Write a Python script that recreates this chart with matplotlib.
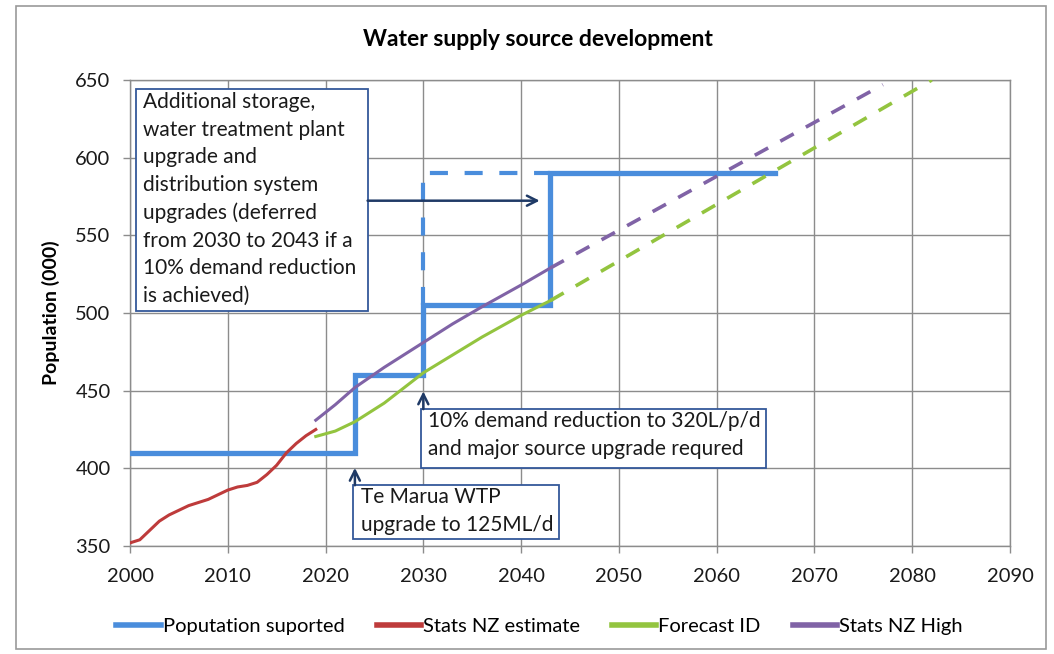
import matplotlib
matplotlib.use("Agg")
import matplotlib.pyplot as plt
from matplotlib.patches import Rectangle

plt.rcParams["font.family"] = ["Lato", "DejaVu Sans"]
plt.rcParams["lines.scale_dashes"] = False

# population supported (step line), solid and dashed parts
supported_years = [2000, 2023, 2023, 2030, 2030, 2043, 2043, 2066]
supported_vals = [410, 410, 460, 460, 505, 505, 590, 590]
deferred_years = [2030, 2030, 2043]
deferred_vals = [505, 590, 590]

# Stats NZ estimate
est_years = list(range(2000, 2020))
est_vals = [352, 354, 360, 366, 370, 373, 376, 378, 380, 383,
            386, 388, 389, 391, 396, 402, 410, 416, 421, 425]

# Forecast ID
fid_years = [2019, 2021, 2023, 2026, 2030, 2033, 2036, 2040, 2043]
fid_vals = [420.5, 424, 430, 442, 461.5, 473, 484.5, 498.5, 508]
fid_proj_years = [2043, 2082]
fid_proj_vals = [508, 650]

# Stats NZ High
high_years = [2019, 2021, 2023, 2026, 2030, 2033, 2036, 2040, 2043]
high_vals = [431, 441, 452, 465, 481, 493, 504, 518, 529]
high_proj_years = [2043, 2077]
high_proj_vals = [529, 647]

blue = "#4A8DDC"
red = "#BE3B3B"
green = "#93C43F"
purple = "#8063A6"
navy = "#1F3A66"
boxcol = "#34589A"
grid = "#8C8C8C"

fig = plt.figure(figsize=(10.54, 6.54), dpi=100)
ax = fig.add_axes([130 / 1054, 108 / 654, 880 / 1054, 466 / 654])

ax.plot(supported_years, supported_vals, color=blue, lw=3.8,
        solid_joinstyle="miter", label="Poputation suported", zorder=4)
ax.plot(deferred_years, deferred_vals, color=blue, lw=3.0,
        dashes=(13, 12), zorder=4)
ax.plot(est_years, est_vals, color=red, lw=2.2, label="Stats NZ estimate", zorder=5)
ax.plot(fid_years, fid_vals, color=green, lw=2.2, label="Forecast ID", zorder=5)
ax.plot(fid_proj_years, fid_proj_vals, color=green, lw=2.6, dashes=(11, 10), zorder=5)
ax.plot(high_years, high_vals, color=purple, lw=2.2, label="Stats NZ High", zorder=5)
ax.plot(high_proj_years, high_proj_vals, color=purple, lw=2.6, dashes=(11, 10), zorder=5)

ax.set_xlim(2000, 2090)
ax.set_ylim(350, 650)
ax.set_xticks(range(2000, 2091, 10))
ax.set_yticks(range(350, 651, 50))
ax.grid(True, color=grid, lw=1.0)
ax.set_axisbelow(True)
for s in ax.spines.values():
    s.set_color(grid)
    s.set_linewidth(1.0)
ax.tick_params(axis="both", colors=grid, length=5, width=1.0,
               labelsize=14.5, labelcolor="#1a1a1a")
ax.tick_params(axis="x", pad=11)
ax.tick_params(axis="y", pad=9)
ax.set_ylabel("Population (000)", fontsize=14, fontweight="bold", labelpad=11)
fig.text(0.51, 1 - 40 / 654, "Water supply source development",
         ha="center", va="center", fontsize=16.5, fontweight="bold")

# annotation boxes
def note(x0, x1, y0, y1, tx, ty, text):
    ax.add_patch(Rectangle((x0, y0), x1 - x0, y1 - y0, facecolor="white",
                           edgecolor=boxcol, lw=1.3, zorder=6))
    ax.text(tx, ty, text, ha="left", va="top", fontsize=15,
            linespacing=1.47, color="#1a1a1a", zorder=7)

note(2000.6, 2024.3, 501.2, 644.3, 2001.3, 642.0,
     "Additional storage,\nwater treatment plant\nupgrade and\n"
     "distribution system\nupgrades (deferred\nfrom 2030 to 2043 if a\n"
     "10% demand reduction\nis achieved)")
note(2029.75, 2065.0, 400.1, 438.1, 2030.5, 436.8,
     "10% demand reduction to 320L/p/d\nand major source upgrade requred")
note(2022.8, 2043.9, 354.3, 389.1, 2023.6, 387.8,
     "Te Marua WTP\nupgrade to 125ML/d")

arrow = dict(arrowstyle="->", color=navy, lw=1.8, mutation_scale=18,
             shrinkA=0, shrinkB=0)
ax.annotate("", xy=(2041.9, 572.3), xytext=(2024.3, 572.3), arrowprops=arrow, zorder=7)
ax.annotate("", xy=(2030, 449.5), xytext=(2030, 438.1), arrowprops=arrow, zorder=7)
ax.annotate("", xy=(2023, 400.3), xytext=(2023, 389.1), arrowprops=arrow, zorder=7)

leg = fig.legend(loc="center", bbox_to_anchor=(0.512, 28 / 654), ncol=4,
                 frameon=False, fontsize=14.5, handlelength=2.2,
                 handletextpad=0.1, columnspacing=1.6)
for h in leg.get_lines():
    h.set_linewidth(4)

# outer chart border
fig.patches.append(Rectangle((16 / 1054, 5 / 654), 1030 / 1054, 643 / 654,
                             transform=fig.transFigure, fill=False,
                             edgecolor="#9a9a9a", lw=1.2))

fig.savefig("out.png", dpi=100)
